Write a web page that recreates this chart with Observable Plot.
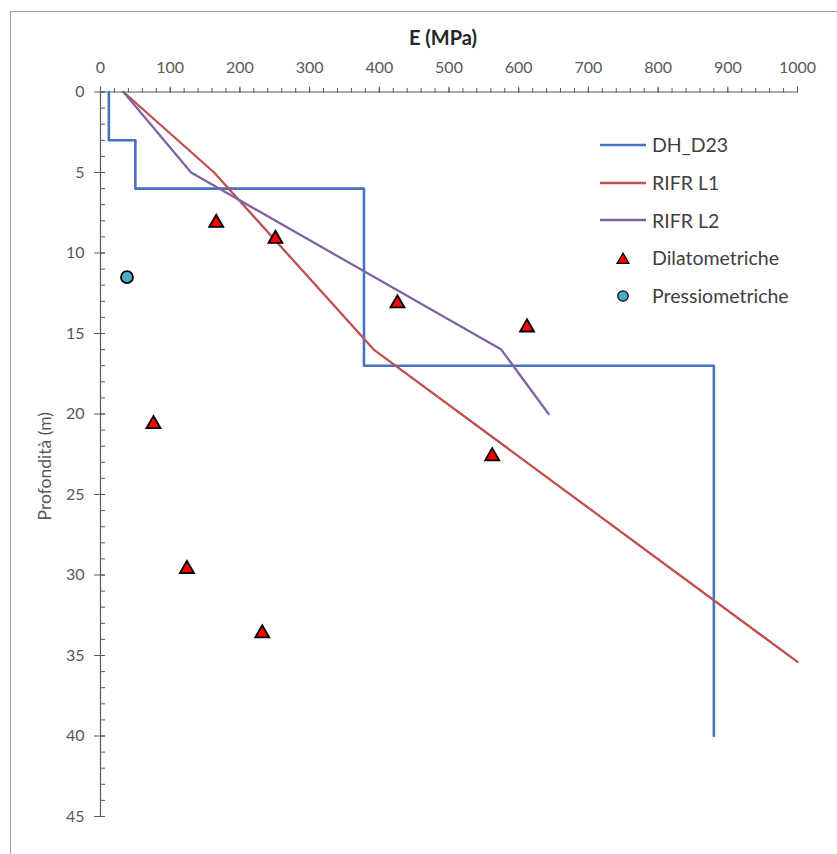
<!DOCTYPE html>
<html>
<head>
<meta charset="utf-8">
<script src="https://cdn.jsdelivr.net/npm/d3@7"></script>
<script src="https://cdn.jsdelivr.net/npm/@observablehq/plot@0.6"></script>
<style>
  html, body { margin: 0; padding: 0; background: #fff; }
  #wrap { position: relative; width: 837px; height: 854px; overflow: hidden; font-family: Lato, "Open Sans", sans-serif; }
  #border { position: absolute; left: 10px; top: 11px; width: 900px; height: 900px;
            border-left: 1.5px solid #a0a0a0; border-top: 1.5px solid #a0a0a0; pointer-events: none; }
  #legend { position: absolute; left: 600px; top: 126px; color: #404040; font-size: 19.5px; }
  #legend .row { display: flex; align-items: center; height: 37.7px; }
  #legend svg { width: 47px; height: 20px; margin-right: 5px; flex: none; }
</style>
</head>
<body>
<div id="wrap">
  <div id="border"></div>
  <div id="chart"></div>
  <div id="legend"></div>
</div>
<script>
// Downhole profile DH_D23: modulus (MPa) against depth (m), step profile
const dhE = [12, 12, 50, 50, 378, 378, 880, 880];
const dhZ = [0, 3, 3, 6, 6, 17, 17, 40];

// Refraction profiles
const l1E = [33, 163, 392, 1000];
const l1Z = [0, 5, 16, 35.4];
const l2E = [33, 130, 575, 643];
const l2Z = [0, 5, 16, 20];

// Dilatometer tests
const dilE = [166, 251, 426, 612, 76, 562, 124, 232];
const dilZ = [8, 9, 13, 14.5, 20.5, 22.5, 29.5, 33.5];

// Pressuremeter tests
const presE = [38];
const presZ = [11.5];

// Axis ticks
const xMajor = d3.range(0, 1001, 100);
const xMinor = d3.range(0, 1001, 20);
const yMajor = d3.range(0, 46, 5);
const yMinor = d3.range(0, 46, 1);

const series = [
  {name: "DH_D23", E: dhE, Z: dhZ, color: "#4472C4", width: 2.6},
  {name: "RIFR L1", E: l1E, Z: l1Z, color: "#C0504D", width: 2.3},
  {name: "RIFR L2", E: l2E, Z: l2Z, color: "#8064A2", width: 2.3}
];
const pts = (E, Z) => E.map((e, i) => ({E: e, Z: Z[i]}));

const tickColor = "#595959";
const chart = Plot.plot({
  width: 837,
  height: 854,
  marginLeft: 100,
  marginRight: 40,
  marginTop: 91.5,
  marginBottom: 38,
  style: {fontFamily: "Lato, 'Open Sans', sans-serif", background: "transparent"},
  x: {domain: [0, 1000]},
  y: {domain: [0, 45], reverse: true},
  marks: [
    // axis lines
    Plot.ruleY([0], {stroke: tickColor, strokeWidth: 1.2}),
    Plot.ruleX([0], {stroke: tickColor, strokeWidth: 1.2}),
    // x ticks (outside, upward) and labels
    Plot.axisX({anchor: "top", ticks: xMinor, tickSize: 4.5, tickFormat: () => "", stroke: tickColor, label: null}),
    Plot.axisX({anchor: "top", ticks: xMajor, tickSize: 6, tickFormat: () => "", stroke: tickColor, label: null}),
    Plot.axisX({anchor: "top", ticks: xMajor, tickSize: 0, tickPadding: 19, tickFormat: d => String(d), fontSize: 16, fill: tickColor, label: null}),
    // y ticks: minor inside, major crossing
    Plot.axisY({anchor: "left", ticks: yMinor, tickSize: -5, tickFormat: () => "", stroke: tickColor, label: null}),
    Plot.axisY({anchor: "left", ticks: yMajor, tickSize: -5, tickFormat: () => "", stroke: tickColor, label: null}),
    Plot.axisY({anchor: "left", ticks: yMajor, tickSize: 6, tickFormat: () => "", stroke: tickColor, label: null}),
    Plot.axisY({anchor: "left", ticks: yMajor, tickSize: 0, tickPadding: 16, tickFormat: d => String(d), fontSize: 16, fill: tickColor, label: null}),
    // profiles
    ...series.map(s => Plot.line(pts(s.E, s.Z), {x: "E", y: "Z", stroke: s.color, strokeWidth: s.width})),
    // test points
    Plot.dot(pts(dilE, dilZ), {x: "E", y: "Z", symbol: "triangle", r: 5.2, dy: 2, fill: "#FF0000", stroke: "#000", strokeWidth: 1.8}),
    Plot.dot(pts(presE, presZ), {x: "E", y: "Z", r: 6, fill: "#4BACC6", stroke: "#000", strokeWidth: 1.8}),
    // titles
    Plot.text(["E (MPa)"], {frameAnchor: "top", dx: -6, dy: -61, fontSize: 20, fontWeight: "bold", fill: "#262626"}),
    Plot.text(["Profondità (m)"], {frameAnchor: "left", textAnchor: "middle", rotate: -90, dx: -55, dy: 12, fontSize: 17.5, fill: tickColor})
  ]
});
document.getElementById("chart").appendChild(chart);

// Legend
const legend = d3.select("#legend");
series.forEach(s => {
  const row = legend.append("div").attr("class", "row");
  row.append("svg").append("line")
    .attr("x1", 0).attr("x2", 46).attr("y1", 10).attr("y2", 10)
    .attr("stroke", s.color).attr("stroke-width", s.width);
  row.append("span").text(s.name);
});
{
  const row = legend.append("div").attr("class", "row");
  row.append("svg").append("path")
    .attr("d", d3.symbol(d3.symbolTriangle, 62)())
    .attr("transform", "translate(23,12)")
    .attr("fill", "#FF0000").attr("stroke", "#000").attr("stroke-width", 1.2);
  row.append("span").text("Dilatometriche");
}
{
  const row = legend.append("div").attr("class", "row");
  row.append("svg").append("circle")
    .attr("cx", 23).attr("cy", 10).attr("r", 5.2)
    .attr("fill", "#4BACC6").attr("stroke", "#000").attr("stroke-width", 1.2);
  row.append("span").text("Pressiometriche");
}
</script>
</body>
</html>
